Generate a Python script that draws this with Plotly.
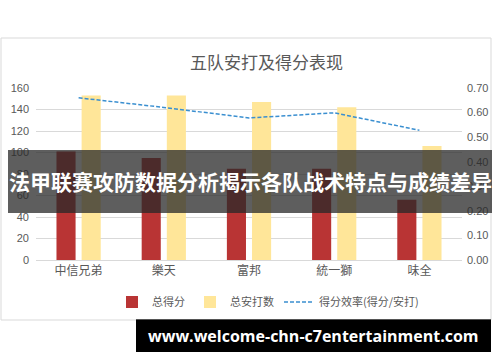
import plotly.graph_objects as go

teams = ["中信兄弟", "樂天", "富邦", "統一獅", "味全"]
total_runs = [101, 95, 85, 85, 56]
total_hits = [153, 153, 147, 142, 106]
efficiency = [round(r / h, 3) for r, h in zip(total_runs, total_hits)]

left_ticks = [0, 20, 40, 60, 80, 100, 120, 140, 160]
right_ticks = [0.0, 0.1, 0.2, 0.3, 0.4, 0.5, 0.6, 0.7]

W, H = 500, 362
L, R, T, B = 36, 462, 88, 260


def px(x):
    return (x - L) / (R - L)


def py(y):
    return (B - y) / (B - T)


FONT = "Noto Sans CJK SC, Noto Sans, sans-serif"
GREY = "#595959"

fig = go.Figure()
fig.add_trace(go.Bar(
    x=teams, y=total_runs, name="总得分",
    marker=dict(color="#b93434", line=dict(width=0)),
))
fig.add_trace(go.Bar(
    x=teams, y=total_hits, name="总安打数",
    marker=dict(color="#ffe699", line=dict(width=0)),
))
fig.add_trace(go.Scatter(
    x=teams, y=efficiency, name="得分效率(得分/安打)", yaxis="y2",
    mode="lines", line=dict(color="#3a8fd0", width=1.5, dash="4px,2px"),
))

shapes = [
    # chart border
    dict(type="rect", xref="paper", yref="paper",
         x0=px(1), x1=px(491), y0=py(320), y1=py(38),
         line=dict(color="#d9d9d9", width=1), fillcolor="rgba(0,0,0,0)", layer="below"),
    # dark band overlay
    dict(type="rect", xref="paper", yref="paper",
         x0=px(8), x1=px(492), y0=py(213), y1=py(150),
         line=dict(width=0), fillcolor="rgba(40,40,40,0.75)", layer="above"),
    # black url box
    dict(type="rect", xref="paper", yref="paper",
         x0=px(136), x1=px(491), y0=py(352), y1=py(319),
         line=dict(width=0), fillcolor="#000000", layer="above"),
    dict(type="line", xref="paper", yref="paper",
         x0=px(136), x1=px(491), y0=py(319.5), y1=py(319.5),
         line=dict(color="#555555", width=1), layer="above"),
]

annotations = [
    dict(text="五队安打及得分表现", xref="paper", yref="paper",
         x=px(266), y=py(62), showarrow=False,
         font=dict(family=FONT, size=17, color=GREY), xanchor="center", yanchor="middle"),
    dict(text="<b>法甲联赛攻防数据分析揭示各队战术特点与成绩差异</b>", xref="paper", yref="paper",
         x=px(250), y=py(181), showarrow=False,
         font=dict(family=FONT, size=21, color="#ffffff"), xanchor="center", yanchor="middle"),
    dict(text="<b>www.welcome-chn-c7entertainment.com</b>", xref="paper", yref="paper",
         x=px(313), y=py(336), showarrow=False,
         font=dict(family="Open Sans, DejaVu Sans, sans-serif", size=16, color="#ffffff"),
         xanchor="center", yanchor="middle"),
]

fig.update_layout(
    width=W, height=H,
    margin=dict(l=L, r=W - R, t=T, b=H - B),
    paper_bgcolor="#ffffff", plot_bgcolor="#ffffff",
    barmode="group", bargap=0.41, bargroupgap=0.24,
    font=dict(family=FONT, size=11, color=GREY),
    showlegend=True,
    legend=dict(orientation="h", x=px(268), y=py(302), xanchor="center", yanchor="middle",
                font=dict(family=FONT, size=11, color=GREY), itemwidth=30,
                bgcolor="rgba(0,0,0,0)"),
    xaxis=dict(showgrid=False, showline=True, linecolor="#d9d9d9", linewidth=1,
               tickfont=dict(family=FONT, size=12, color=GREY), ticks="", fixedrange=True),
    yaxis=dict(range=[0, 160], tickvals=left_ticks, showgrid=True, gridcolor="#d9d9d9",
               gridwidth=1, zeroline=False, showline=False, ticks="",
               tickfont=dict(family="Liberation Sans, Arial, sans-serif", size=11, color=GREY),
               ticklabelstandoff=6),
    yaxis2=dict(range=[0, 0.70], tickvals=right_ticks, tickformat=".2f", overlaying="y",
                side="right", showgrid=False, zeroline=False, showline=False, ticks="",
                tickfont=dict(family="Liberation Sans, Arial, sans-serif", size=11, color=GREY),
                ticklabelstandoff=4),
    shapes=shapes,
    annotations=annotations,
)

fig.write_html("out.html")
